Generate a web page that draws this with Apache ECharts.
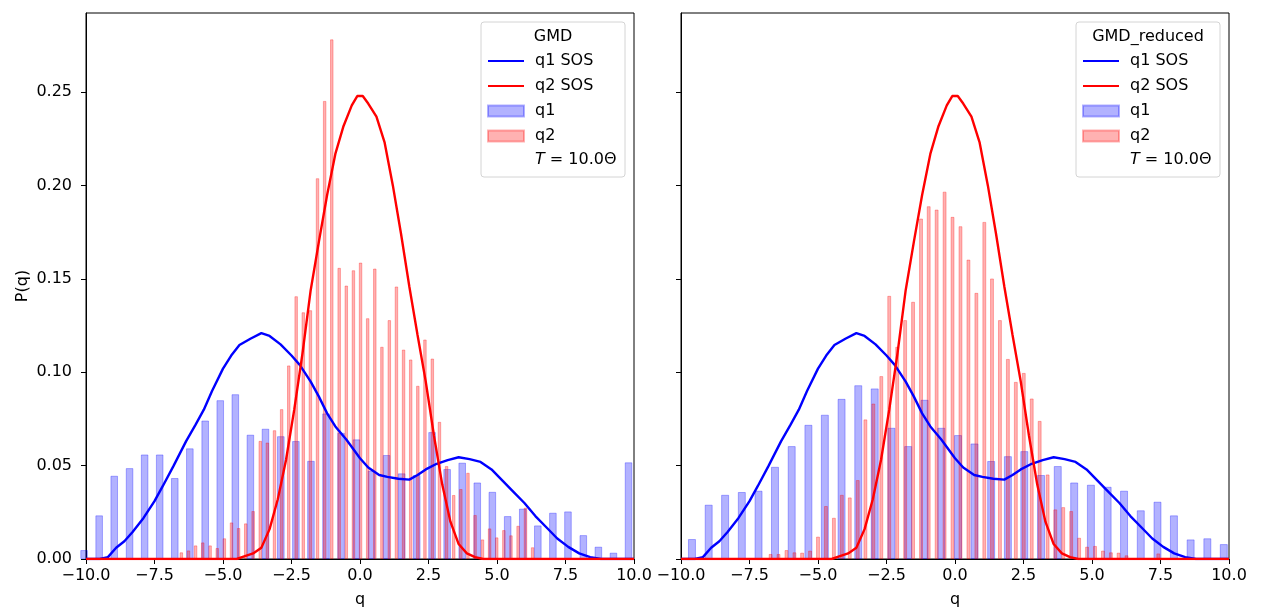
<!DOCTYPE html>
<html><head><meta charset="utf-8">
<script src="https://cdn.jsdelivr.net/npm/echarts@6/dist/echarts.min.js"></script>
<style>html,body{margin:0;padding:0;background:#fff}#c{width:1262px;height:614px}</style>
</head><body><div id="c"></div>
<script>
// ---- tick labels ----
const xTicks = [-10, -7.5, -5, -2.5, 0, 2.5, 5, 7.5, 10];
const yTicks = [0, 0.05, 0.10, 0.15, 0.20, 0.25];

// ---- panel titles / legend ----
const panelTitles = ['GMD', 'GMD_reduced'];
const legendNames = ['q1 SOS', 'q2 SOS', 'q1', 'q2'];
const tempLabel = '{i|T} = 10.0\u0398';

// ---- left panel (GMD) histograms ----
const gmdQ1Centers = [-10.07,-9.52,-8.97,-8.41,-7.86,-7.31,-6.76,-6.21,-5.65,-5.10,-4.55,-4.00,-3.45,-2.89,-2.34,-1.79,-1.24,-0.69,-0.13,0.42,0.97,1.52,2.07,2.63,3.18,3.73,4.28,4.83,5.39,5.94,6.49,7.04,7.59,8.15,8.70,9.25,9.80];
const gmdQ1Heights = [0.0048,0.0234,0.0446,0.0487,0.056,0.056,0.0434,0.0593,0.0742,0.0851,0.0883,0.0666,0.0698,0.0658,0.0632,0.0526,0.078,0.0676,0.0641,0.0473,0.0557,0.0459,0.045,0.068,0.0482,0.0516,0.041,0.036,0.023,0.027,0.018,0.0248,0.0255,0.0128,0.0066,0.0034,0.0518];
const gmdQ2Centers = [-6.52,-6.26,-6.00,-5.74,-5.47,-5.21,-4.95,-4.69,-4.43,-4.17,-3.90,-3.64,-3.38,-3.12,-2.86,-2.60,-2.33,-2.07,-1.81,-1.55,-1.29,-1.03,-0.76,-0.50,-0.24,0.02,0.28,0.54,0.80,1.07,1.33,1.59,1.85,2.11,2.37,2.64,2.90,3.16,3.42,3.68,3.94,4.20,4.47,4.73,4.99,5.25,5.51,5.77,6.04,6.30];
const gmdQ2Heights = [0.0036,0.0046,0.0073,0.0089,0.0073,0.0059,0.0111,0.0196,0.0166,0.0191,0.0257,0.0633,0.0624,0.069,0.0803,0.1037,0.1408,0.1322,0.1333,0.204,0.2454,0.2784,0.156,0.1465,0.1547,0.1588,0.129,0.1556,0.1137,0.128,0.146,0.1122,0.1069,0.0928,0.1176,0.1074,0.0735,0.0498,0.0343,0.0375,0.0462,0.0236,0.0105,0.0164,0.0116,0.0155,0.0127,0.0178,0.0275,0.0063];

// ---- right panel (GMD_reduced) histograms ----
const redQ1Centers = [-9.60,-8.99,-8.39,-7.78,-7.17,-6.57,-5.96,-5.35,-4.75,-4.14,-3.53,-2.93,-2.32,-1.71,-1.11,-0.50,0.11,0.71,1.32,1.93,2.53,3.14,3.75,4.35,4.96,5.57,6.17,6.78,7.39,7.99,8.60,9.21,9.81];
const redQ1Heights = [0.0107,0.0291,0.0344,0.0359,0.0366,0.0494,0.0605,0.0719,0.0773,0.0858,0.0931,0.0914,0.0703,0.0605,0.0853,0.0703,0.0664,0.0619,0.0525,0.0551,0.0578,0.045,0.0498,0.041,0.0398,0.0387,0.0366,0.0261,0.0307,0.0234,0.0105,0.0111,0.008];
const redQ2Centers = [-6.73,-6.44,-6.15,-5.86,-5.58,-5.29,-5.00,-4.71,-4.42,-4.13,-3.84,-3.55,-3.27,-2.98,-2.69,-2.40,-2.11,-1.82,-1.53,-1.24,-0.96,-0.67,-0.38,-0.09,0.20,0.49,0.78,1.07,1.35,1.64,1.93,2.22,2.51,2.80,3.09,3.38,3.66,3.95,4.24,4.53,4.82,5.11,5.40,5.69,5.97,6.26,6.55,6.84,7.13,7.42];
const redQ2Heights = [0.0027,0.0027,0.0048,0.0036,0.0034,0.0045,0.012,0.0284,0.0221,0.0344,0.033,0.0423,0.0748,0.0833,0.098,0.141,0.1137,0.128,0.1378,0.1824,0.189,0.1872,0.1968,0.1833,0.1783,0.1604,0.1426,0.1806,0.1503,0.128,0.1072,0.0949,0.0997,0.086,0.074,0.0453,0.0266,0.0278,0.0257,0.0114,0.0066,0.007,0.0045,0.0036,0.0034,0.002,0,0,0,0.003];

// ---- SOS curves (same in both panels) ----
const sos1X = [-10,-9.5,-9.2,-8.9,-8.6,-8.3,-7.9,-7.5,-7.2,-6.8,-6.35,-6.0,-5.7,-5.4,-5.0,-4.7,-4.4,-4.0,-3.6,-3.3,-2.9,-2.5,-2.2,-1.8,-1.5,-1.2,-0.9,-0.5,-0.2,0.0,0.3,0.7,1.0,1.4,1.8,2.1,2.4,2.8,3.2,3.6,4.0,4.4,4.8,5.2,5.6,6.0,6.4,6.8,7.2,7.6,8.0,8.4,8.8,10];
const sos1Y = [0,0,0.001,0.006,0.0095,0.0145,0.022,0.031,0.039,0.05,0.063,0.072,0.08,0.09,0.102,0.109,0.1146,0.118,0.121,0.1195,0.115,0.109,0.104,0.095,0.087,0.078,0.071,0.064,0.058,0.054,0.049,0.045,0.044,0.043,0.0425,0.045,0.048,0.051,0.053,0.0545,0.0535,0.052,0.048,0.042,0.036,0.030,0.023,0.017,0.011,0.0065,0.003,0.001,0,0];
const sos2X = [-10,-4.5,-4.2,-3.9,-3.6,-3.3,-3.0,-2.7,-2.4,-2.1,-1.8,-1.5,-1.2,-0.9,-0.6,-0.3,-0.1,0.1,0.3,0.6,0.9,1.2,1.5,1.8,2.1,2.4,2.7,3.0,3.3,3.6,3.9,4.2,4.5,10];
const sos2Y = [0,0,0.0015,0.003,0.006,0.016,0.032,0.053,0.08,0.11,0.144,0.17,0.195,0.217,0.232,0.243,0.248,0.248,0.244,0.237,0.223,0.2,0.174,0.146,0.12,0.095,0.066,0.04,0.02,0.008,0.003,0.001,0,0];

const FONT = '"DejaVu Sans", sans-serif';
const BLUE = '0,0,255', RED = '255,0,0';
const fmtX = v => (v < 0 ? '\u2212' : '') + Math.abs(v).toFixed(1);
const pairs = (xs, ys) => xs.map((x, i) => [x, ys[i]]);

function mkX(gridIndex, visible) {
  return {
    type: 'value', gridIndex, min: -10, max: 10, interval: 2.5, show: visible,
    axisLine: { show: true, onZero: false, lineStyle: { color: '#000', width: 1 } },
    axisTick: { show: true, length: 5, lineStyle: { color: '#000', width: 1 }, customValues: xTicks },
    axisLabel: { margin: 9, color: '#000', fontSize: 16, fontFamily: FONT, formatter: fmtX, customValues: xTicks },
    splitLine: { show: false },
    name: visible ? 'q' : '', nameLocation: 'middle', nameGap: 33,
    nameTextStyle: { color: '#000', fontSize: 16, fontFamily: FONT }
  };
}
function mkY(gridIndex, labels) {
  return {
    type: 'value', gridIndex, min: 0, max: 0.2925,
    axisLine: { show: true, onZero: false, lineStyle: { color: '#000', width: 1 } },
    axisTick: { show: true, length: 5, lineStyle: { color: '#000', width: 1 }, customValues: yTicks },
    axisLabel: { show: labels, margin: 14, color: '#000', fontSize: 16, fontFamily: FONT,
      formatter: v => v.toFixed(2), customValues: yTicks },
    splitLine: { show: false },
    name: labels ? 'P(q)' : '', nameLocation: 'middle', nameGap: 55, nameRotate: 90,
    nameTextStyle: { color: '#000', fontSize: 16, fontFamily: FONT }
  };
}
function barS(name, xi, yi, cx, hy, rgb, bw) {
  return {
    type: 'bar', name, xAxisIndex: xi, yAxisIndex: yi, barWidth: bw, clip: true,
    data: pairs(cx, hy).filter(d => d[1] > 0),
    itemStyle: { color: `rgba(${rgb},0.3)`, borderColor: `rgba(${rgb},0.3)`, borderWidth: 1 },
    emphasis: { disabled: true }, z: 2, animation: false
  };
}
function lineS(name, xi, yi, xs, ys, color) {
  return {
    type: 'line', name, xAxisIndex: xi, yAxisIndex: yi, data: pairs(xs, ys),
    symbol: 'none', showSymbol: false, clip: true,
    lineStyle: { color, width: 2.4 }, itemStyle: { color },
    emphasis: { disabled: true }, z: 5, animation: false
  };
}
function mkLegend(left, top) {
  return {
    orient: 'vertical', left, top, padding: 0, itemWidth: 36, itemHeight: 11, itemGap: 9,
    selectedMode: false, z: 12,
    data: [{ name: legendNames[0], itemStyle: { opacity: 0 } },
           { name: legendNames[1], itemStyle: { opacity: 0 } },
           { name: legendNames[2], icon: 'rect' }, { name: legendNames[3], icon: 'rect' }],
    textStyle: { color: '#000', fontSize: 16, fontFamily: FONT, padding: [0, 0, 0, 6] }
  };
}
function legendBox(x, title) {
  return [
    { type: 'rect', z: 10, shape: { x: x, y: 22, width: 144, height: 155, r: 3 },
      style: { fill: 'rgba(255,255,255,0.8)', stroke: '#d4d4d4', lineWidth: 1 } },
    { type: 'text', z: 11, x: x + 72, y: 37,
      style: { text: title, font: '16px ' + FONT, fill: '#000', align: 'center', verticalAlign: 'middle' } },
    { type: 'text', z: 11, x: x + 54, y: 160,
      style: { text: tempLabel, font: '16px ' + FONT, fill: '#000', verticalAlign: 'middle',
        rich: { i: { fontStyle: 'italic', fontSize: 16, fontFamily: FONT, fill: '#000' } } } }
  ];
}

const chart = echarts.init(document.getElementById('c'), null, { renderer: 'canvas' });
chart.setOption({
  backgroundColor: '#fff',
  animation: false,
  grid: [
    { left: 86, right: 628, top: 13, bottom: 55, show: true, borderColor: '#000', borderWidth: 1, backgroundColor: 'transparent' },
    { left: 681, right: 33, top: 13, bottom: 55, show: true, borderColor: '#000', borderWidth: 1, backgroundColor: 'transparent' }
  ],
  xAxis: [mkX(0, true), mkX(0, false), mkX(1, true), mkX(1, false)],
  yAxis: [mkY(0, true), mkY(1, false)],
  legend: [mkLegend(487, 53), mkLegend(1082, 53)],
  series: [
    barS('q1', 0, 0, gmdQ1Centers, gmdQ1Heights, BLUE, 7.6),
    barS('q2', 1, 0, gmdQ2Centers, gmdQ2Heights, RED, 3.5),
    lineS('q1 SOS', 0, 0, sos1X, sos1Y, '#0000ff'),
    lineS('q2 SOS', 0, 0, sos2X, sos2Y, '#ff0000'),
    barS('q1', 2, 1, redQ1Centers, redQ1Heights, BLUE, 8.0),
    barS('q2', 3, 1, redQ2Centers, redQ2Heights, RED, 3.9),
    lineS('q1 SOS', 2, 1, sos1X, sos1Y, '#0000ff'),
    lineS('q2 SOS', 2, 1, sos2X, sos2Y, '#ff0000')
  ],
  graphic: [...legendBox(481, panelTitles[0]), ...legendBox(1076, panelTitles[1])]
});
</script></body></html>
